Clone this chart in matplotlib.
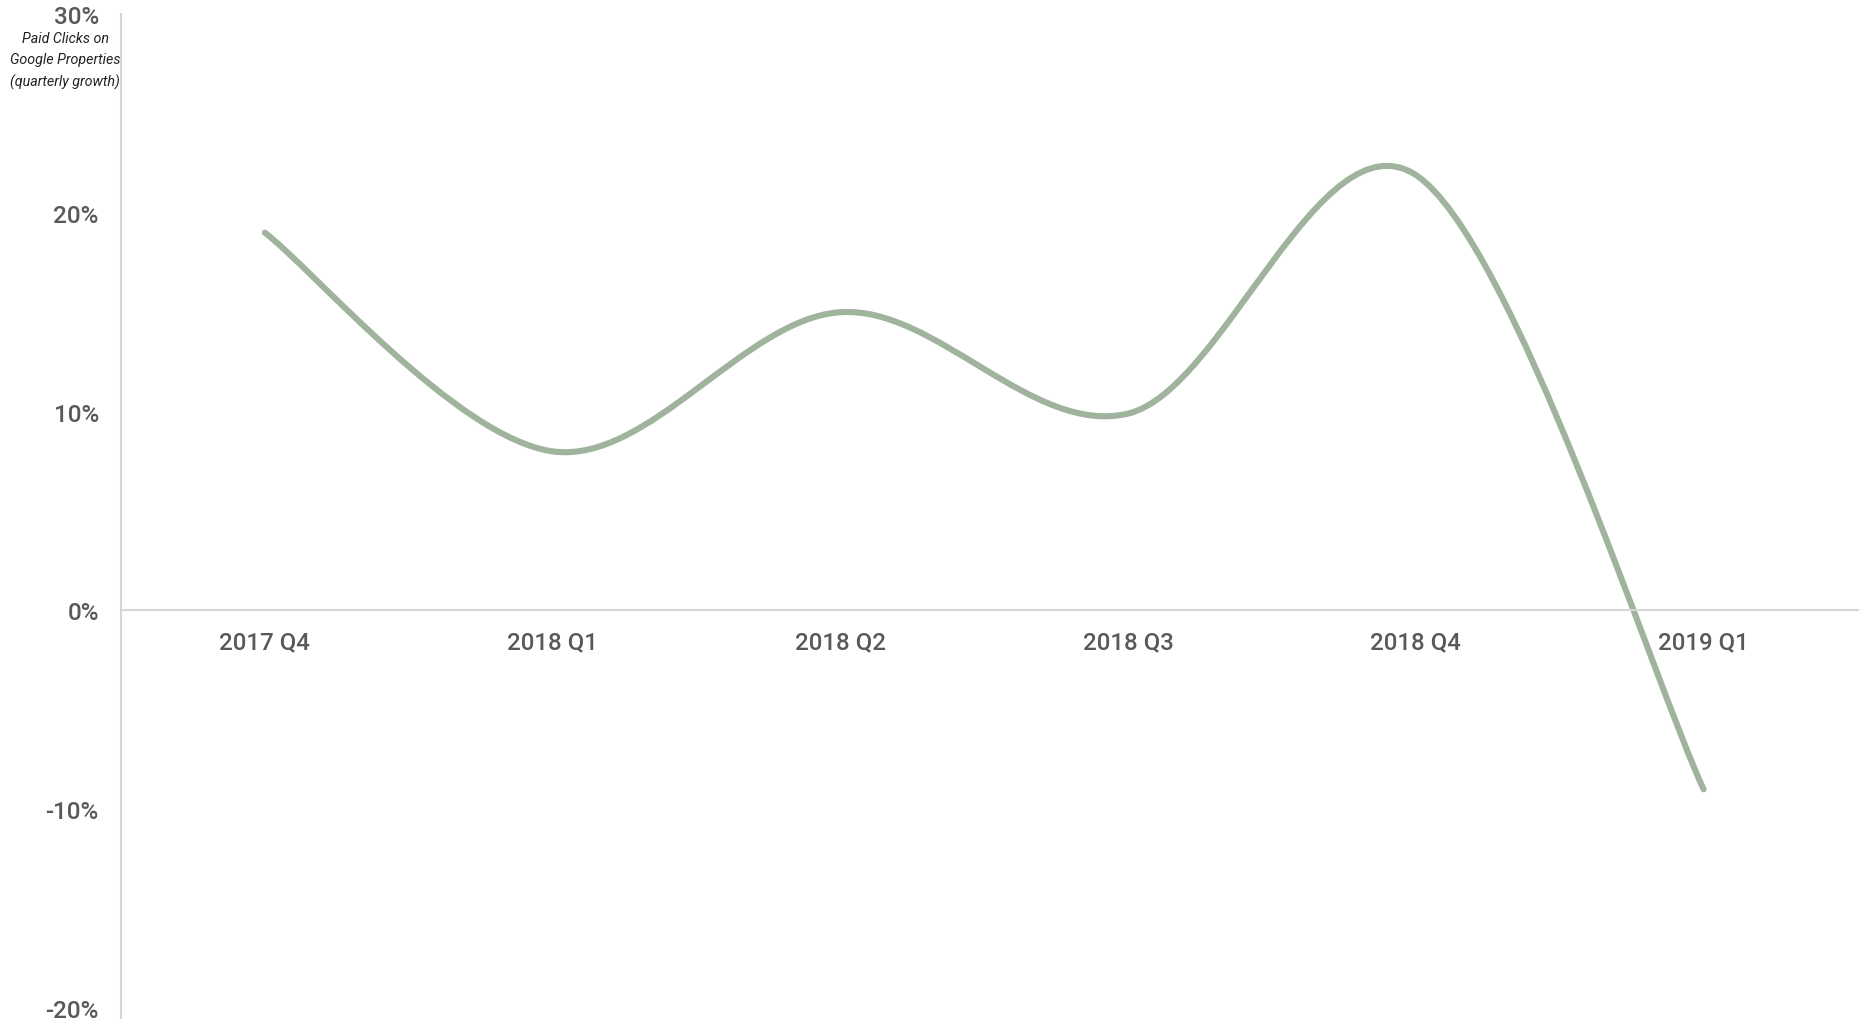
import numpy as np
import matplotlib
matplotlib.use("Agg")
import matplotlib.pyplot as plt
from matplotlib.path import Path
from matplotlib.patches import PathPatch

plt.rcParams['font.family'] = ['Roboto', 'DejaVu Sans']

quarters = ["2017 Q4", "2018 Q1", "2018 Q2", "2018 Q3", "2018 Q4", "2019 Q1"]
growth = [19.0, 8.0, 15.0, 9.9, 21.9, -9.0]
yticks = [-20, -10, 0, 10, 20, 30]
ylabel = "Paid Clicks on\nGoogle Properties\n(quarterly growth)"

line_color = "#9fb39d"
text_color = "#595959"
axis_color = "#d6d6d6"

W, H = 1859, 1020
fig = plt.figure(figsize=(W / 100, H / 100), dpi=100)
ax = fig.add_axes([121 / W, (H - 1009) / H, 1 - 121 / W, (1009 - 15) / H])
ax.set_xlim(-0.5, 5.54)
ax.set_ylim(-20, 30)


def cardinal_path(xs, ys):
    # catmull-rom style curve (ends duplicated), as cubic beziers
    pts = np.column_stack([xs, ys]).astype(float)
    ext = np.vstack([pts[0], pts, pts[-1]])
    verts = [pts[0]]
    codes = [Path.MOVETO]
    for i in range(1, len(pts)):
        p0, p1, p2, p3 = ext[i - 1], ext[i], ext[i + 1], ext[i + 2]
        verts += [p1 + (p2 - p0) / 6, p2 - (p3 - p1) / 6, p2]
        codes += [Path.CURVE4] * 3
    return Path(np.array(verts), codes)


x = np.arange(len(quarters))
ax.add_patch(PathPatch(cardinal_path(x, growth), facecolor="none",
                       edgecolor=line_color, lw=4.4,
                       capstyle="round", joinstyle="round"))

for s in ["top", "right"]:
    ax.spines[s].set_visible(False)
ax.spines["bottom"].set_position(("data", 0))
ax.spines["bottom"].set_color(axis_color)
ax.spines["bottom"].set_linewidth(1.5)
ax.spines["left"].set_color(axis_color)
ax.spines["left"].set_linewidth(1.5)
ax.spines["left"].set_bounds(-21, 30)

ax.set_xticks(x)
ax.set_xticklabels(quarters)
ax.set_yticks(yticks)
ax.set_yticklabels([f"{v}%" for v in yticks])
ax.tick_params(axis="x", length=0, pad=14.5, labelsize=17.3, labelcolor=text_color)
ax.tick_params(axis="y", length=0, pad=16, labelsize=17.5, labelcolor=text_color)
for lab in ax.get_xticklabels() + ax.get_yticklabels():
    lab.set_fontweight("medium")

fig.text(65 / W, 1 - 61 / H, ylabel, ha="center", va="center", fontsize=10.3,
         style="italic", color="#222222", linespacing=1.6)

fig.savefig("out.png", dpi=100)
